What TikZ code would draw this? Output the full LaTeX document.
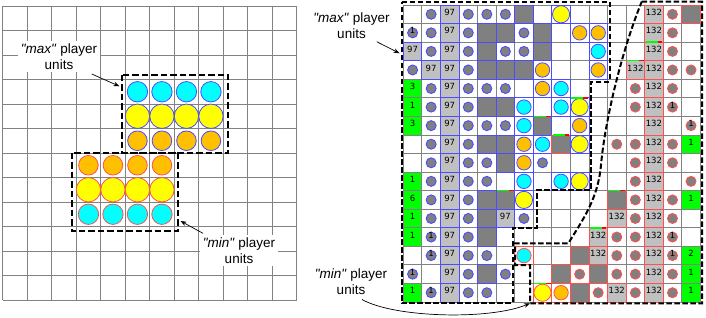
\documentclass[tikz,border=0pt]{standalone}
\usepackage{fontspec}
\setmainfont{Liberation Sans}
\newfontfamily\labfont{Liberation Sans}
\newfontfamily\cellfont{DejaVu Sans}
\usetikzlibrary{arrows.meta}
\definecolor{cyanU}{HTML}{00FFFF}
\definecolor{yellowU}{HTML}{FFFF00}
\definecolor{orangeU}{HTML}{FFC000}
\definecolor{blueE}{HTML}{4B4BFF}
\definecolor{redE}{HTML}{FF5050}
\definecolor{gridC}{HTML}{828282}
\definecolor{darkC}{HTML}{808080}
\definecolor{lightC}{HTML}{C0C0C0}
\definecolor{greenC}{HTML}{00FF00}
\definecolor{markR}{HTML}{FF0000}
\def\CW{18.5625}
\def\HC{9.28125}
% ---- pass A: cell fills
\newcommand\fillcell[1]{\fill[#1] (\X,\Y) rectangle ++(\CW,\CW);}
\expandafter\def\csname pa@n\endcsname{\fillcell{lightC}}
\expandafter\def\csname pa@t\endcsname{\fillcell{lightC}}
\expandafter\def\csname pa@d\endcsname{\fillcell{darkC}}
\expandafter\def\csname pa@D\endcsname{\fillcell{darkC}}
\expandafter\def\csname pa@G1\endcsname{\fillcell{greenC}}
\expandafter\def\csname pa@G2\endcsname{\fillcell{greenC}}
\expandafter\def\csname pa@G3\endcsname{\fillcell{greenC}}
\expandafter\def\csname pa@G6\endcsname{\fillcell{greenC}}
% ---- pass B: borders and contents
\newcommand\bluebox{\draw[blueE,line width=0.8pt] (\X,\Y) rectangle ++(\CW,\CW);}
\newcommand\redbox{\draw[redE,line width=0.8pt] (\X,\Y) rectangle ++(\CW,\CW);}
\newcommand\cellnum[1]{\node[numtxt] (v\rr-\cc) at ({\X+\HC},{\Y+\HC-2}) {#1};}
\newcommand\infl[1]{\draw[#1,fill=darkC,line width=0.9pt] ({\X+\HC},{\Y+\HC}) circle[radius=5];}
\newcommand\unitc[3]{\draw[#1,fill=#2,line width=0.8pt] ({\X+\HC},{\Y+\HC}) circle[radius=#3];}
\expandafter\def\csname pb@n\endcsname{\bluebox\cellnum{97}}
\expandafter\def\csname pb@t\endcsname{\redbox\cellnum{132}}
\expandafter\def\csname pb@d\endcsname{\bluebox}
\expandafter\def\csname pb@D\endcsname{\redbox}
\expandafter\def\csname pb@b\endcsname{\infl{blueE}}
\expandafter\def\csname pb@B\endcsname{\infl{blueE}\cellnum{1}}
\expandafter\def\csname pb@r\endcsname{\infl{redE}}
\expandafter\def\csname pb@R\endcsname{\infl{redE}\cellnum{1}}
\expandafter\def\csname pb@C\endcsname{\bluebox\unitc{blueE}{cyanU}{7.2}}
\expandafter\def\csname pb@Y\endcsname{\bluebox\unitc{blueE}{yellowU}{8.6}}
\expandafter\def\csname pb@O\endcsname{\bluebox\unitc{blueE}{orangeU}{7.2}}
\expandafter\def\csname pb@c\endcsname{\redbox\unitc{redE}{cyanU}{7.2}}
\expandafter\def\csname pb@y\endcsname{\redbox\unitc{redE}{yellowU}{8.6}}
\expandafter\def\csname pb@o\endcsname{\redbox\unitc{redE}{orangeU}{7.2}}
\expandafter\def\csname pb@G1\endcsname{\cellnum{1}}
\expandafter\def\csname pb@G2\endcsname{\cellnum{2}}
\expandafter\def\csname pb@G3\endcsname{\cellnum{3}}
\expandafter\def\csname pb@G6\endcsname{\cellnum{6}}
\def\gridrows{%
{e,b,n,b,b,b,d,e,Y,e,e,e,e,t,r,D},%
{B,b,n,b,d,d,b,d,e,O,O,e,e,t,r,e},%
{n,b,n,b,d,b,b,d,e,e,C,e,e,t,r,e},%
{b,n,n,b,d,d,d,O,e,e,O,e,t,t,r,r},%
{G3,b,n,b,b,b,e,O,C,e,e,e,r,t,r,e},%
{G1,b,n,b,d,d,C,e,C,Y,e,e,r,t,R,e},%
{G3,b,n,b,b,b,C,d,e,O,e,e,e,t,e,R},%
{e,b,n,b,d,d,O,C,D,Y,e,r,r,t,r,G1},%
{e,b,n,b,b,d,O,b,e,e,e,e,r,t,r,e},%
{G1,b,n,b,b,e,C,e,C,Y,e,e,r,t,e,r},%
{G6,b,n,b,d,d,Y,e,e,e,e,D,r,t,r,G1},%
{G1,b,n,b,d,n,b,e,e,e,e,t,r,t,r,e},%
{G1,B,n,b,d,e,e,e,e,e,t,r,r,t,R,e},%
{e,B,n,b,b,e,c,e,e,D,t,r,r,t,R,G2},%
{B,e,n,b,d,b,e,e,D,r,D,r,r,t,r,G1},%
{G1,B,n,b,b,e,e,y,o,D,r,t,r,t,r,G1}%
}
\begin{document}
\begin{tikzpicture}[x=1pt,y=-1pt,
  numtxt/.style={inner sep=0pt,text=black,font=\cellfont\fontsize{8.5}{10}\selectfont},
  lab/.style={align=center,inner sep=2.5pt,font=\labfont\fontsize{13.5}{16}\selectfont},
  gridL/.style={draw=gridC,line width=0.9pt},
  gridR/.style={draw=gridC,line width=0.8pt},
  dashL/.style={draw=black,line width=2.2pt,dash pattern=on 6.5pt off 3pt},
  dashR/.style={draw=black,line width=2pt,dash pattern=on 5.5pt off 2.5pt},
  arr/.style={draw=black,line width=0.7pt,-{Stealth[length=6pt,width=4.5pt]}},
  maxu/.style={draw=blueE,line width=0.8pt},
  minu/.style={draw=redE,line width=0.8pt}]
\useasboundingbox (0,0) rectangle (706,318);
\fill[white] (0,0) rectangle (706,318);
% ================= left panel
\foreach \i in {0,...,12}{
  \draw[gridL] ({2.7+\i*24.5},6) -- ({2.7+\i*24.5},300);
  \draw[gridL] (2.7,{6+\i*24.5}) -- (296.7,{6+\i*24.5});
}
\foreach \i in {0,...,3}{
  \draw[maxu,fill=cyanU]   ({137.45+\i*24.5},91.75) circle[radius=10.2];
  \draw[maxu,fill=yellowU] ({137.45+\i*24.5},116.25) circle[radius=12.2];
  \draw[maxu,fill=orangeU] ({137.45+\i*24.5},140.75) circle[radius=9.8];
  \draw[minu,fill=orangeU] ({88.45+\i*24.5},165.25) circle[radius=9.8];
  \draw[minu,fill=yellowU] ({88.45+\i*24.5},189.75) circle[radius=12.2];
  \draw[minu,fill=cyanU]   ({88.45+\i*24.5},214.25) circle[radius=10.2];
}
\draw[dashL] (121.7,75) rectangle (228.3,152.7);
\draw[dashL] (71.7,152.7) rectangle (178.3,231);
\node[lab,fill=white] (lmaxlab) at (59,56.5) {\textit{"max"} player\\units};
\node[lab,fill=white] (lminlab) at (239,250.5) {\textit{"min"} player\\units};
\coordinate (lmaxA) at (91.7,74);
\coordinate (lmaxB) at (119.5,86.3);
\coordinate (lminA) at (203,233.3);
\coordinate (lminB) at (180.5,221);
\draw[arr] (lmaxA) -- (lmaxB);
\draw[arr] (lminA) -- (lminB);
% ================= right panel
\foreach \rowlist [count=\rr from 0] in \gridrows {
  \foreach \code [count=\cc from 0] in \rowlist {
    \pgfmathsetmacro\X{403.3+\cc*\CW}
    \pgfmathsetmacro\Y{5+\rr*\CW}
    \csname pa@\code\endcsname
  }
}
\foreach \i in {0,...,16}{
  \draw[gridR] ({403.3+\i*\CW},5) -- ({403.3+\i*\CW},302);
  \draw[gridR] (403.3,{5+\i*\CW}) -- (700.3,{5+\i*\CW});
}
\foreach \rowlist [count=\rr from 0] in \gridrows {
  \foreach \code [count=\cc from 0] in \rowlist {
    \pgfmathsetmacro\X{403.3+\cc*\CW}
    \pgfmathsetmacro\Y{5+\rr*\CW}
    \csname pb@\code\endcsname
  }
}
\foreach \er/\ec in {2/13,3/12,5/9,6/7,7/8,10/5,10/11,12/10,15/7}{
  \pgfmathsetmacro\X{403.3+\ec*\CW}
  \pgfmathsetmacro\Y{5+\er*\CW}
  \draw[greenC,line width=1.6pt] ({\X+1},\Y) -- ({\X+13},\Y);
  \draw[markR,line width=1.6pt] ({\X+13},\Y) -- ({\X+17.5},\Y);
}
% max region
\draw[dashR] (401.7,1.7) -- (609.5,1.7) -- (609.5,81.7) -- (591,81.7) -- (591,190)
  -- (536.7,190) -- (536.7,228.3) -- (512.5,228.3) -- (512.5,303.3) -- (401.7,303.3) -- cycle;
% min region
\draw[dashR] (641.7,1.7) -- (702,1.7) -- (702,303.3) -- (530,303.3) -- (530,265)
  -- (515,265) -- (515,243.3) -- (568.3,243.3)
  .. controls (584,218) and (598,198) .. (601,165)
  .. controls (605,120) and (622,50) .. (641.7,1.7);
\node[lab] (rmaxlab) at (351.5,26) {\textit{"max"} player\\units};
\node[lab] (rminlab) at (351,282) {\textit{"min"} player\\units};
\coordinate (rmaxA) at (376.7,41.7);
\coordinate (rmaxB) at (399.5,53.3);
\coordinate (rminA) at (362,299.5);
\coordinate (rminB) at (530,303.3);
\draw[arr] (rmaxA) -- (rmaxB);
\draw[arr] (rminA) .. controls (395,318) and (490,320) .. (rminB);
\end{tikzpicture}
\end{document}
